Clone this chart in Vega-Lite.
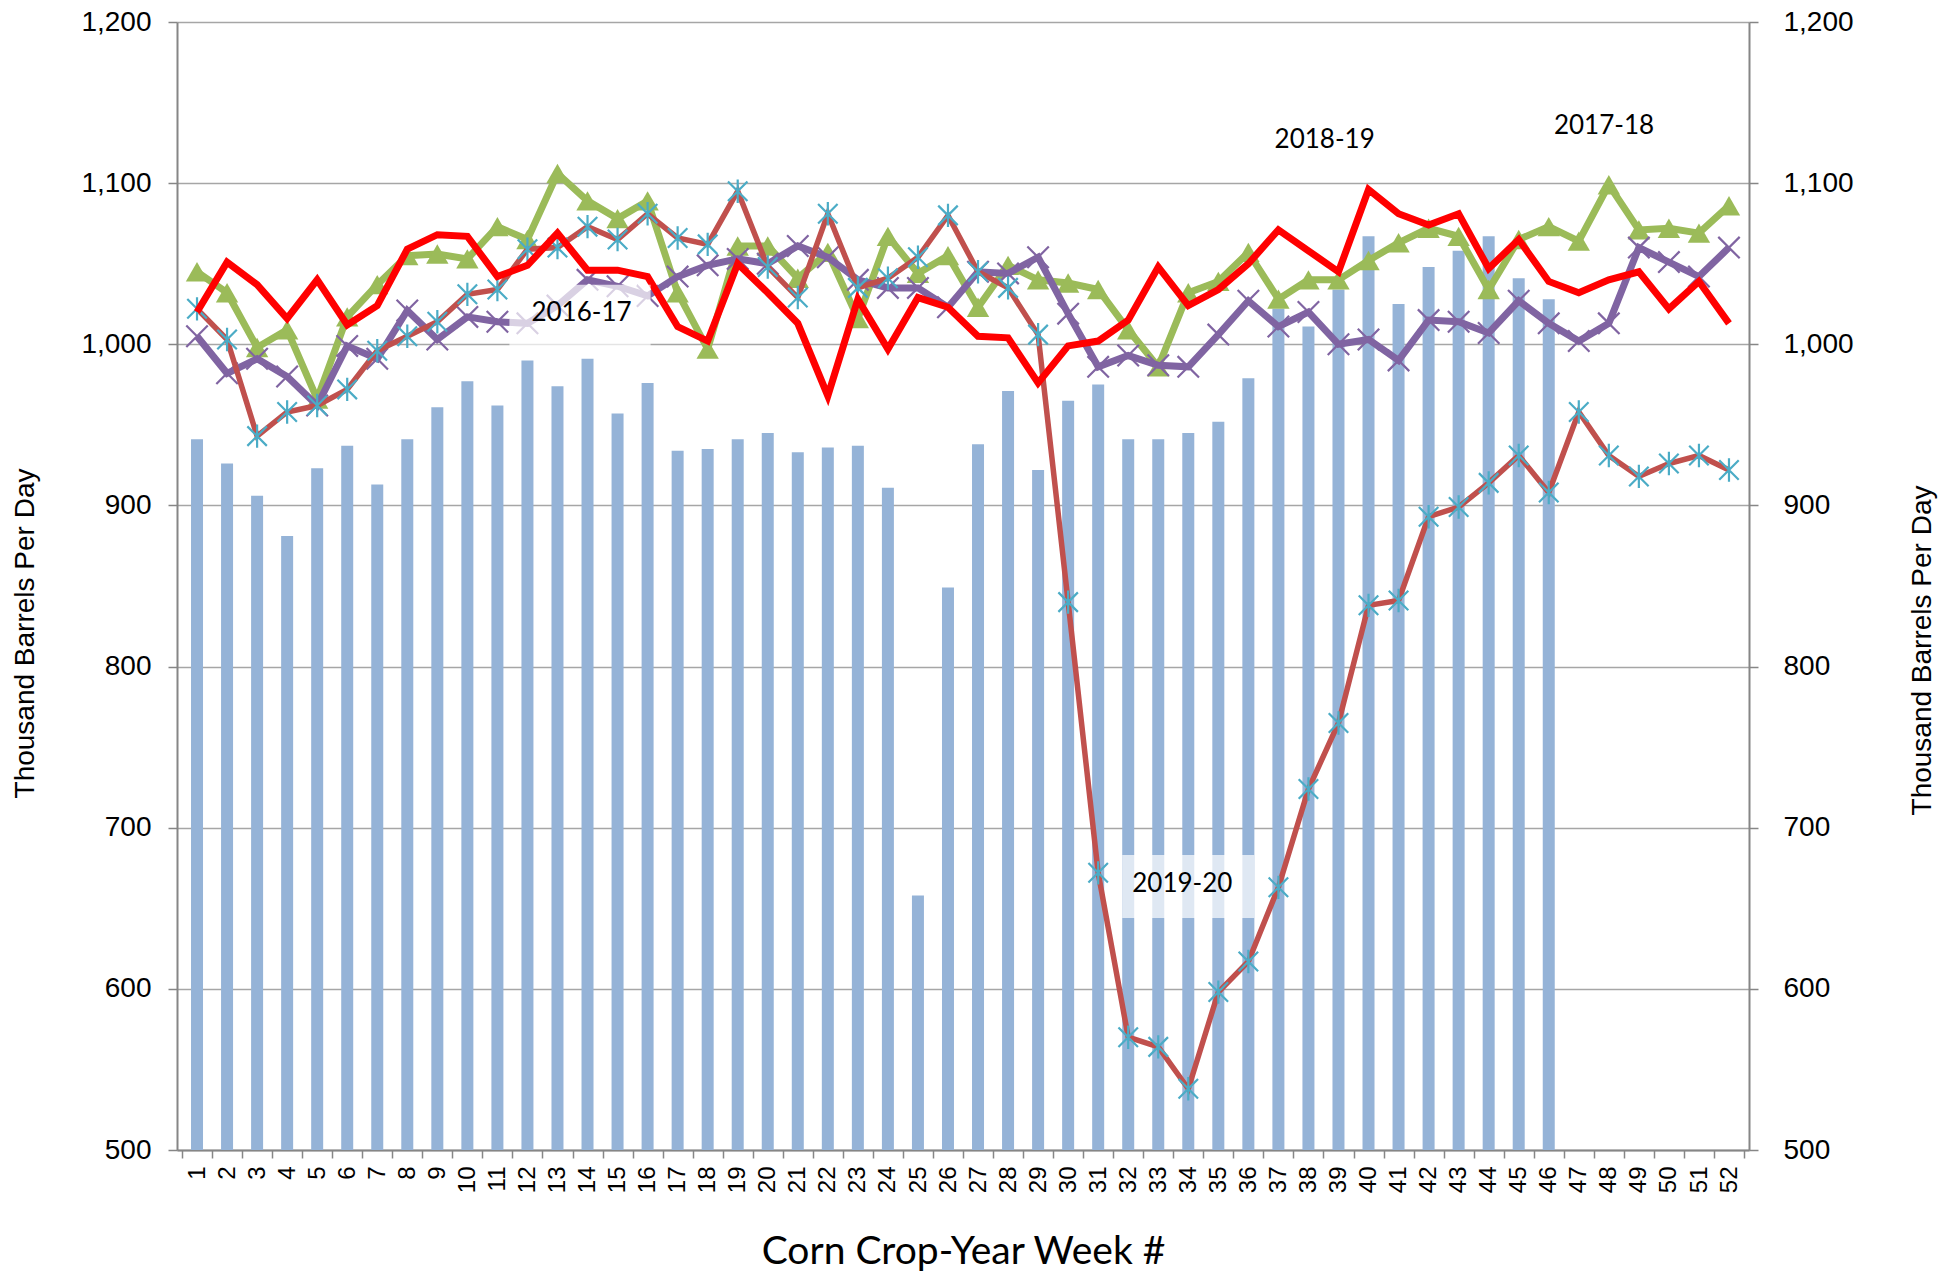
{
  "$schema": "https://vega.github.io/schema/vega-lite/v6.json",
  "width": 1572,
  "height": 1128,
  "autosize": {"type": "none"},
  "padding": {"left": 177, "top": 22, "right": 192, "bottom": 121},
  "background": "white",
  "config": {
    "view": {"stroke": null},
    "axis": {"labelFont": "Liberation Sans", "labelColor": "#000", "titleFont": "Liberation Sans", "titleFontWeight": "normal", "titleColor": "#000", "domainColor": "#868686", "tickColor": "#868686"}
  },
  "data": {"values": [
    {"week":1,"y2021":941,"y1617":1005,"y1718":1045,"y1819":1020,"y1920":1022},
    {"week":2,"y2021":926,"y1617":982,"y1718":1032,"y1819":1051,"y1920":1003},
    {"week":3,"y2021":906,"y1617":991,"y1718":998,"y1819":1037,"y1920":943},
    {"week":4,"y2021":881,"y1617":980,"y1718":1009,"y1819":1016,"y1920":958},
    {"week":5,"y2021":923,"y1617":962,"y1718":966,"y1819":1040,"y1920":962},
    {"week":6,"y2021":937,"y1617":999,"y1718":1017,"y1819":1012,"y1920":972},
    {"week":7,"y2021":913,"y1617":991,"y1718":1037,"y1819":1024,"y1920":996},
    {"week":8,"y2021":941,"y1617":1021,"y1718":1055,"y1819":1059,"y1920":1005},
    {"week":9,"y2021":961,"y1617":1003,"y1718":1056,"y1819":1068,"y1920":1014},
    {"week":10,"y2021":977,"y1617":1017,"y1718":1053,"y1819":1067,"y1920":1031},
    {"week":11,"y2021":962,"y1617":1014,"y1718":1073,"y1819":1042,"y1920":1034},
    {"week":12,"y2021":990,"y1617":1013,"y1718":1065,"y1819":1049,"y1920":1059},
    {"week":13,"y2021":974,"y1617":1024,"y1718":1106,"y1819":1069,"y1920":1060},
    {"week":14,"y2021":991,"y1617":1040,"y1718":1089,"y1819":1046,"y1920":1073},
    {"week":15,"y2021":957,"y1617":1036,"y1718":1078,"y1819":1046,"y1920":1065},
    {"week":16,"y2021":976,"y1617":1030,"y1718":1089,"y1819":1042,"y1920":1081},
    {"week":17,"y2021":934,"y1617":1042,"y1718":1032,"y1819":1011,"y1920":1066},
    {"week":18,"y2021":935,"y1617":1049,"y1718":997,"y1819":1002,"y1920":1062},
    {"week":19,"y2021":941,"y1617":1053,"y1718":1061,"y1819":1050,"y1920":1095},
    {"week":20,"y2021":945,"y1617":1050,"y1718":1061,"y1819":1032,"y1920":1048},
    {"week":21,"y2021":933,"y1617":1061,"y1718":1041,"y1819":1013,"y1920":1029},
    {"week":22,"y2021":936,"y1617":1054,"y1718":1057,"y1819":968,"y1920":1081},
    {"week":23,"y2021":937,"y1617":1040,"y1718":1016,"y1819":1028,"y1920":1035},
    {"week":24,"y2021":911,"y1617":1035,"y1718":1067,"y1819":997,"y1920":1041},
    {"week":25,"y2021":658,"y1617":1035,"y1718":1044,"y1819":1029,"y1920":1054},
    {"week":26,"y2021":849,"y1617":1023,"y1718":1055,"y1819":1023,"y1920":1080},
    {"week":27,"y2021":938,"y1617":1045,"y1718":1023,"y1819":1005,"y1920":1045},
    {"week":28,"y2021":971,"y1617":1044,"y1718":1049,"y1819":1004,"y1920":1035},
    {"week":29,"y2021":922,"y1617":1054,"y1718":1040,"y1819":976,"y1920":1006},
    {"week":30,"y2021":965,"y1617":1019,"y1718":1038,"y1819":999,"y1920":840},
    {"week":31,"y2021":975,"y1617":986,"y1718":1034,"y1819":1002,"y1920":672},
    {"week":32,"y2021":941,"y1617":993,"y1718":1009,"y1819":1015,"y1920":570},
    {"week":33,"y2021":941,"y1617":987,"y1718":986,"y1819":1048,"y1920":564},
    {"week":34,"y2021":945,"y1617":986,"y1718":1032,"y1819":1024,"y1920":538},
    {"week":35,"y2021":952,"y1617":1006,"y1718":1039,"y1819":1034,"y1920":598},
    {"week":36,"y2021":979,"y1617":1027,"y1718":1057,"y1819":1050,"y1920":617},
    {"week":37,"y2021":1022,"y1617":1011,"y1718":1028,"y1819":1071,"y1920":663},
    {"week":38,"y2021":1011,"y1617":1020,"y1718":1040,"y1819":1058,"y1920":724},
    {"week":39,"y2021":1034,"y1617":1000,"y1718":1040,"y1819":1045,"y1920":765},
    {"week":40,"y2021":1067,"y1617":1003,"y1718":1052,"y1819":1096,"y1920":838},
    {"week":41,"y2021":1025,"y1617":990,"y1718":1063,"y1819":1081,"y1920":841},
    {"week":42,"y2021":1048,"y1617":1015,"y1718":1072,"y1819":1074,"y1920":893},
    {"week":43,"y2021":1058,"y1617":1014,"y1718":1067,"y1819":1081,"y1920":899},
    {"week":44,"y2021":1067,"y1617":1007,"y1718":1034,"y1819":1047,"y1920":914},
    {"week":45,"y2021":1041,"y1617":1027,"y1718":1065,"y1819":1065,"y1920":931},
    {"week":46,"y2021":1028,"y1617":1013,"y1718":1073,"y1819":1039,"y1920":908},
    {"week":47,"y1617":1002,"y1718":1064,"y1819":1032,"y1920":958},
    {"week":48,"y1617":1013,"y1718":1099,"y1819":1040,"y1920":931},
    {"week":49,"y1617":1060,"y1718":1071,"y1819":1045,"y1920":918},
    {"week":50,"y1617":1051,"y1718":1072,"y1819":1022,"y1920":926},
    {"week":51,"y1617":1042,"y1718":1069,"y1819":1039,"y1920":931},
    {"week":52,"y1617":1060,"y1718":1086,"y1819":1013,"y1920":922}
  ]},
  "encoding": {
    "x": {
      "field": "week", "type": "quantitative",
      "scale": {"domain": [0.5, 52.5], "nice": false, "zero": false},
      "axis": {
        "values": [0.5,1.5,2.5,3.5,4.5,5.5,6.5,7.5,8.5,9.5,10.5,11.5,12.5,13.5,14.5,15.5,16.5,17.5,18.5,19.5,20.5,21.5,22.5,23.5,24.5,25.5,26.5,27.5,28.5,29.5,30.5,31.5,32.5,33.5,34.5,35.5,36.5,37.5,38.5,39.5,40.5,41.5,42.5,43.5,44.5,45.5,46.5,47.5,48.5,49.5,50.5,51.5,52.5],
        "labelExpr": "datum.value > 52 ? '' : format(datum.value + 0.5, 'd')",
        "labelOffset": 15.115,
        "labelAngle": -90,
        "labelFontSize": 24,
        "labelPadding": 8,
        "labelFlush": false,
        "labelOverlap": false,
        "labelBound": false,
        "tickSize": 8,
        "tickWidth": 1.5,
        "domainWidth": 2,
        "grid": false,
        "title": "Corn Crop-Year Week #",
        "titleFont": "Lato",
        "titleFontSize": 39,
        "titleY": 113,
        "titleBaseline": "alphabetic"
      }
    }
  },
  "layer": [
    {
      "mark": {"type": "bar", "size": 12, "color": "#95B3D7", "clip": true},
      "encoding": {
        "y": {"field": "y2021", "type": "quantitative",
          "scale": {"domain": [500, 1200], "nice": false, "zero": false},
          "axis": {"orient": "left", "tickCount": 7, "format": ",d", "labelFontSize": 28, "labelPadding": 17, "tickSize": 9, "tickWidth": 1.5, "domainWidth": 2, "grid": true, "gridColor": "#a6a6a6", "gridWidth": 1.5, "title": "Thousand Barrels Per Day", "titleFontSize": 28, "titleAngle": -90, "titleBaseline": "alphabetic", "titleX": -144, "titleY": 611}
        }
      }
    },
    {
      "layer": [
        {"mark": {"type": "line", "color": "#9BBB59", "strokeWidth": 7},
         "encoding": {"y": {"field": "y1718", "type": "quantitative", "scale": {"domain": [500, 1200], "nice": false, "zero": false},
           "axis": {"orient": "right", "tickCount": 7, "format": ",d", "labelFontSize": 28, "labelPadding": 25, "tickSize": 9, "tickWidth": 1.5, "domainWidth": 2, "grid": false, "title": "Thousand Barrels Per Day", "titleFontSize": 28, "titleAngle": -90, "titleBaseline": "alphabetic", "titleX": 181, "titleY": 628}}}},
        {"mark": {"type": "point", "shape": "triangle-up", "filled": true, "color": "#9BBB59", "opacity": 1, "size": 500},
         "encoding": {"y": {"field": "y1718", "type": "quantitative", "scale": {"domain": [500, 1200], "nice": false, "zero": false},
           "axis": {"orient": "right", "tickCount": 7, "format": ",d", "labelFontSize": 28, "labelPadding": 25, "tickSize": 9, "tickWidth": 1.5, "domainWidth": 2, "grid": false, "title": "Thousand Barrels Per Day", "titleFontSize": 28, "titleAngle": -90, "titleBaseline": "alphabetic", "titleX": 181, "titleY": 628}}}},
        {"mark": {"type": "line", "color": "#8064A2", "strokeWidth": 7},
         "encoding": {"y": {"field": "y1617", "type": "quantitative", "scale": {"domain": [500, 1200], "nice": false, "zero": false},
           "axis": {"orient": "right", "tickCount": 7, "format": ",d", "labelFontSize": 28, "labelPadding": 25, "tickSize": 9, "tickWidth": 1.5, "domainWidth": 2, "grid": false, "title": "Thousand Barrels Per Day", "titleFontSize": 28, "titleAngle": -90, "titleBaseline": "alphabetic", "titleX": 181, "titleY": 628}}}},
        {"mark": {"type": "point", "shape": "M-1,-1L1,1M-1,1L1,-1", "filled": false, "stroke": "#8064A2", "strokeWidth": 2.2, "opacity": 1, "size": 460},
         "encoding": {"y": {"field": "y1617", "type": "quantitative", "scale": {"domain": [500, 1200], "nice": false, "zero": false},
           "axis": {"orient": "right", "tickCount": 7, "format": ",d", "labelFontSize": 28, "labelPadding": 25, "tickSize": 9, "tickWidth": 1.5, "domainWidth": 2, "grid": false, "title": "Thousand Barrels Per Day", "titleFontSize": 28, "titleAngle": -90, "titleBaseline": "alphabetic", "titleX": 181, "titleY": 628}}}},
        {"mark": {"type": "line", "color": "#C0504D", "strokeWidth": 5.5},
         "encoding": {"y": {"field": "y1920", "type": "quantitative", "scale": {"domain": [500, 1200], "nice": false, "zero": false},
           "axis": {"orient": "right", "tickCount": 7, "format": ",d", "labelFontSize": 28, "labelPadding": 25, "tickSize": 9, "tickWidth": 1.5, "domainWidth": 2, "grid": false, "title": "Thousand Barrels Per Day", "titleFontSize": 28, "titleAngle": -90, "titleBaseline": "alphabetic", "titleX": 181, "titleY": 628}}}},
        {"mark": {"type": "point", "shape": "M-1,-1L1,1M-1,1L1,-1M0,-1.2L0,1.2", "filled": false, "stroke": "#4BACC6", "strokeWidth": 2.2, "opacity": 1, "size": 380},
         "encoding": {"y": {"field": "y1920", "type": "quantitative", "scale": {"domain": [500, 1200], "nice": false, "zero": false},
           "axis": {"orient": "right", "tickCount": 7, "format": ",d", "labelFontSize": 28, "labelPadding": 25, "tickSize": 9, "tickWidth": 1.5, "domainWidth": 2, "grid": false, "title": "Thousand Barrels Per Day", "titleFontSize": 28, "titleAngle": -90, "titleBaseline": "alphabetic", "titleX": 181, "titleY": 628}}}},
        {"mark": {"type": "line", "color": "#FF0000", "strokeWidth": 7},
         "encoding": {"y": {"field": "y1819", "type": "quantitative", "scale": {"domain": [500, 1200], "nice": false, "zero": false},
           "axis": {"orient": "right", "tickCount": 7, "format": ",d", "labelFontSize": 28, "labelPadding": 25, "tickSize": 9, "tickWidth": 1.5, "domainWidth": 2, "grid": false, "title": "Thousand Barrels Per Day", "titleFontSize": 28, "titleAngle": -90, "titleBaseline": "alphabetic", "titleX": 181, "titleY": 628}}}}
      ]
    },
    {
      "data": {"values": [
        {"week": 11.4, "week2": 16.1, "low": 997, "high": 1037},
        {"week": 31.8, "week2": 36.2, "low": 644, "high": 683}
      ]},
      "mark": {"type": "rect", "color": "white", "opacity": 0.7},
      "encoding": {
        "x2": {"field": "week2"},
        "y": {"field": "low", "type": "quantitative", "scale": {"domain": [500, 1200], "nice": false, "zero": false}, "axis": null},
        "y2": {"field": "high"}
      }
    },
    {
      "data": {"values": [
        {"label": "2016-17", "week": 13.8, "value": 1019.6},
        {"label": "2018-19", "week": 38.54, "value": 1127},
        {"label": "2017-18", "week": 47.84, "value": 1135.6},
        {"label": "2019-20", "week": 33.8, "value": 665}
      ]},
      "mark": {"type": "text", "font": "Lato", "fontSize": 26, "color": "#000", "align": "center", "baseline": "middle"},
      "encoding": {
        "text": {"field": "label"},
        "y": {"field": "value", "type": "quantitative", "scale": {"domain": [500, 1200], "nice": false, "zero": false}, "axis": null}
      }
    }
  ],
  "resolve": {"scale": {"y": "independent"}}
}
